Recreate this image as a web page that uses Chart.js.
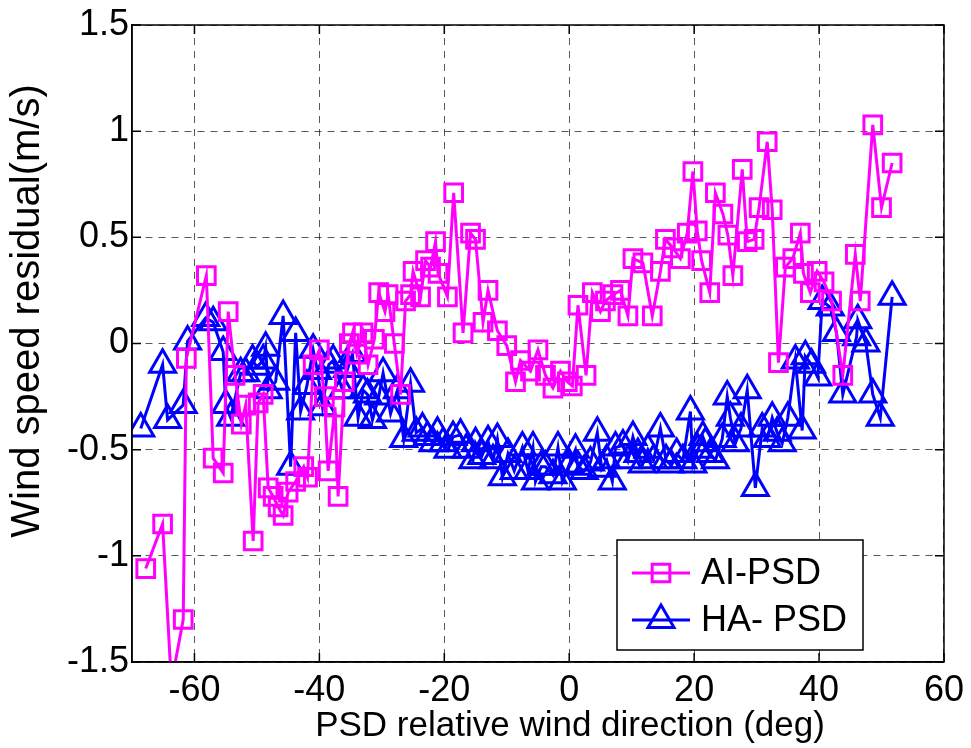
<!DOCTYPE html>
<html>
<head>
<meta charset="utf-8">
<script src="https://cdn.jsdelivr.net/npm/chart.js@4.4.1/dist/chart.umd.min.js"></script>
<style>
  html, body { margin: 0; padding: 0; background: #fff; }
  #wrap { width: 971px; height: 748px; position: relative; }
</style>
</head>
<body>
<div id="wrap"><canvas id="residualChart" width="971" height="748"></canvas></div>
<script>
// wind direction (deg) and residual (m/s) for each method
const aiDirection = [-67.8, -65.1, -63.7, -61.8, -61.3, -58.1, -57, -55.4, -54.6, -53.5, -52.5, -51.8, -50.6, -49.8, -49,
  -48.2, -47.4, -46.6, -45.8, -45, -43.8, -42.5, -41.9, -41, -40, -39.2, -38.6, -37.5, -37, -36, -35.2, -34.7, -34,
  -33, -32.2, -31.2, -30.5, -29.5, -29, -28, -27, -26.2, -25.4, -25, -23.8, -23, -22.2, -21.4, -21, -19.5, -18.5,
  -17, -15.8, -15, -13.8, -13, -11.5, -10, -8.6, -7.8, -6.2, -5, -3.8, -2.6, -1.4, -0.3, 0.5, 1.4, 2.7, 3.7, 5,
  5.8, 7, 8.2, 9.4, 10.2, 11.8, 13.3, 14.6, 15.4, 16.6, 17.8, 18.9, 19.8, 20.5, 21.2, 22.5, 23.4, 24.6, 25.4, 26.2,
  27.7, 28.5, 29.6, 30.4, 31.7, 32.5, 33.5, 34.6, 35.8, 37, 37.5, 38.6, 39.7, 40.8, 42, 43.8, 45.8, 46.6, 48.6, 50, 51.7];
const aiResidual = [-1.06, -0.85, -1.6, -1.30, -0.07, 0.32, -0.54, -0.61, 0.15, -0.15, -0.38, -0.29, -0.93, -0.28, -0.24,
  -0.68, -0.72, -0.77, -0.81, -0.70, -0.65, -0.58, -0.63, -0.10, -0.03, -0.25, -0.60, -0.30, -0.72, -0.18, 0.0, 0.05, -0.05,
  0.05, -0.10, 0.02, 0.24, 0.15, 0.23, 0.0, -0.24, 0.20, 0.23, 0.34, 0.22, 0.39, 0.36, 0.48, 0.33, 0.22, 0.71,
  0.05, 0.52, 0.49, 0.10, 0.25, 0.06, -0.01, -0.18, -0.08, -0.13, -0.03, -0.15, -0.21, -0.13, -0.18, -0.20, 0.18, -0.15, 0.24, 0.15,
  0.20, 0.23, 0.25, 0.13, 0.40, 0.38, 0.13, 0.34, 0.49, 0.45, 0.40, 0.52, 0.81, 0.53, 0.39, 0.24, 0.71, 0.61, 0.51, 0.32,
  0.82, 0.48, 0.49, 0.64, 0.95, 0.63, -0.09, 0.36, 0.40, 0.52, 0.33, 0.24, 0.34, 0.29, 0.20, -0.15, 0.42, 0.20, 1.03, 0.64, 0.85];

const haDirection = [-68.6, -65.1, -64.3, -61.8, -61.1, -58.2, -57, -55.4, -55, -54.2, -52.6, -51.8, -50.7, -50, -49,
  -48.6, -48.2, -47, -45.8, -44.6, -43.8, -43, -42, -41, -40.3, -39.5, -38.5, -37.8, -36.3, -35.5, -34.7, -33.8, -33,
  -32.3, -31.5, -30.5, -29.8, -28.6, -27.5, -26.5, -25.4, -24.5, -23.5, -22.7, -21.8, -21.1, -20.2, -19.4, -18.6, -17.4,
  -16.5, -15.4, -15, -14, -13, -12.2, -11.5, -10.7, -9.8, -8.8, -7.5, -6.6, -5.8, -5.4, -4.5, -3.8, -2.6, -1.8, -1.1,
  0, 1, 1.4, 2.4, 3.4, 4.5, 5.2, 6, 6.9, 7.4, 8.6, 9.4, 10.2, 11, 11.7, 12.6, 13.5, 14.6, 15.5, 16.2, 17.2, 18.2,
  19.4, 19.8, 20.6, 21.4, 21.8, 22.6, 23.4, 24.5, 25.3, 25.8, 26.6, 27.5, 28.5, 29.8, 30.9, 31.7, 32.5, 33.3, 34.1, 35,
  36.2, 37.3, 37.8, 38.8, 39.8, 40.5, 41.8, 42.8, 43.8, 46, 46.2, 47.5, 48.6, 49.8, 51.7];
const haResidual = [-0.40, -0.10, -0.36, -0.29, 0.01, 0.12, 0.10, -0.04, -0.29, -0.35, -0.14, -0.14, -0.08, -0.11, -0.08,
  -0.02, -0.22, -0.18, 0.13, -0.58, 0.05, -0.32, -0.20, -0.03, -0.13, -0.30, -0.10, -0.08, -0.22, -0.12, -0.05, -0.35, -0.22,
  -0.24, -0.36, -0.25, -0.14, -0.33, -0.22, -0.45, -0.19, -0.42, -0.40, -0.44, -0.47, -0.42, -0.47, -0.50, -0.44, -0.43,
  -0.50, -0.55, -0.47, -0.53, -0.46, -0.55, -0.45, -0.63, -0.52, -0.60, -0.49, -0.60, -0.49, -0.65, -0.58, -0.58, -0.62, -0.49, -0.65,
  -0.57, -0.50, -0.58, -0.60, -0.56, -0.42, -0.59, -0.55, -0.65, -0.49, -0.48, -0.55, -0.44, -0.52, -0.57, -0.50, -0.55, -0.40, -0.55, -0.57, -0.52, -0.55,
  -0.32, -0.57, -0.50, -0.44, -0.47, -0.52, -0.55, -0.45, -0.25, -0.35, -0.47, -0.40, -0.22, -0.68, -0.40, -0.45, -0.35, -0.42, -0.47, -0.35,
  -0.08, -0.41, -0.06, -0.10, -0.16, 0.20, 0.17, 0.05, -0.24, 0.03, 0.11, 0.0, -0.24, -0.35, 0.22];

const xTickValues = [-60, -40, -20, 0, 20, 40, 60];
const seriesNames = ['AI-PSD', 'HA- PSD'];
const xTitle = 'PSD relative wind direction (deg)';
const yTitle = 'Wind speed residual(m/s)';

const FONT = '"Liberation Sans", Arial, sans-serif';

function pairs(xs, ys) {
    return xs.map((x, i) => ({ x: x, y: ys[i] }));
}

// frame round the plot, with inward ticks like the original
const framePlugin = {
    id: 'frame',
    afterDraw(chart) {
        const { ctx, chartArea: a, scales } = chart;
        ctx.save();
        ctx.strokeStyle = '#000';
        ctx.lineWidth = 1.5;
        ctx.setLineDash([]);
        ctx.strokeRect(a.left, a.top, a.right - a.left, a.bottom - a.top);
        ctx.beginPath();
        scales.x.ticks.forEach(t => {
            const px = scales.x.getPixelForValue(t.value);
            ctx.moveTo(px, a.bottom); ctx.lineTo(px, a.bottom - 9);
            ctx.moveTo(px, a.top); ctx.lineTo(px, a.top + 9);
        });
        scales.y.ticks.forEach(t => {
            const py = scales.y.getPixelForValue(t.value);
            ctx.moveTo(a.left, py); ctx.lineTo(a.left + 9, py);
            ctx.moveTo(a.right, py); ctx.lineTo(a.right - 9, py);
        });
        ctx.stroke();
        ctx.restore();
    }
};

// axis titles, placed where the original has them
const axisTitlePlugin = {
    id: 'axisTitles',
    afterDraw(chart) {
        const { ctx } = chart;
        ctx.save();
        ctx.fillStyle = '#000';
        ctx.textAlign = 'center';
        ctx.textBaseline = 'middle';
        ctx.font = '35px ' + FONT;
        ctx.fillText(xTitle, 570, 726);
        ctx.translate(28, 311);
        ctx.rotate(-Math.PI / 2);
        ctx.font = '40px ' + FONT;
        ctx.fillText(yTitle, 0, 0);
        ctx.restore();
    }
};

// legend box in the lower right corner of the plot
const boxLegendPlugin = {
    id: 'boxLegend',
    afterDraw(chart) {
        const { ctx } = chart;
        const bx = 617, by = 540, bw = 246, bh = 110;
        ctx.save();
        ctx.fillStyle = '#fff';
        ctx.fillRect(bx, by, bw, bh);
        ctx.strokeStyle = '#000';
        ctx.lineWidth = 1.5;
        ctx.strokeRect(bx, by, bw, bh);
        chart.data.datasets.forEach((ds, i) => {
            const cy = by + 33 + i * 47;
            ctx.strokeStyle = ds.borderColor;
            ctx.lineWidth = 3;
            ctx.beginPath();
            ctx.moveTo(632, cy); ctx.lineTo(690, cy);
            ctx.stroke();
            ctx.fillStyle = 'rgba(0,0,0,0)';
            Chart.helpers.drawPoint(ctx, {
                pointStyle: ds.pointStyle, radius: ds.pointRadius, borderWidth: 3
            }, 661, cy);
            ctx.fillStyle = '#000';
            ctx.font = '36px ' + FONT;
            ctx.textBaseline = 'middle';
            ctx.fillText(ds.label, 701, cy + 1);
        });
        ctx.restore();
    }
};

const ctx = document.getElementById('residualChart');
new Chart(ctx, {
    type: 'scatter',
    data: {
        datasets: [{
            label: seriesNames[0],
            data: pairs(aiDirection, aiResidual),
            showLine: true,
            borderColor: '#ff00ff',
            backgroundColor: 'rgba(0,0,0,0)',
            borderWidth: 3,
            pointStyle: 'rect',
            pointRadius: 12.5,
            pointBorderWidth: 3,
            pointBorderColor: '#ff00ff',
            pointBackgroundColor: 'rgba(0,0,0,0)'
        }, {
            label: seriesNames[1],
            data: pairs(haDirection, haResidual),
            showLine: true,
            borderColor: '#0000ff',
            backgroundColor: 'rgba(0,0,0,0)',
            borderWidth: 3,
            pointStyle: 'triangle',
            pointRadius: 15,
            pointBorderWidth: 3,
            pointBorderColor: '#0000ff',
            pointBackgroundColor: 'rgba(0,0,0,0)'
        }]
    },
    options: {
        responsive: false,
        animation: false,
        layout: { padding: { left: 0, right: 27, top: 25, bottom: 0 } },
        plugins: {
            legend: { display: false },
            tooltip: { enabled: false }
        },
        scales: {
            x: {
                type: 'linear',
                min: -70,
                max: 60,
                afterBuildTicks: scale => {
                    scale.ticks = xTickValues.map(v => ({ value: v }));
                },
                afterFit: scale => { scale.height = 86; },
                grid: {
                    color: 'rgba(0,0,0,0.65)',
                    lineWidth: 1,
                    drawTicks: false
                },
                border: { display: true, color: '#000', width: 1.5, dash: [7, 6] },
                ticks: {
                    color: '#000',
                    padding: 7,
                    maxRotation: 0,
                    font: { family: FONT, size: 36 }
                }
            },
            y: {
                min: -1.5,
                max: 1.5,
                ticks: {
                    stepSize: 0.5,
                    color: '#000',
                    padding: 3,
                    font: { family: FONT, size: 36 },
                    callback: value => String(value)
                },
                afterFit: scale => { scale.width = 132; },
                grid: {
                    color: 'rgba(0,0,0,0.65)',
                    lineWidth: 1,
                    drawTicks: false
                },
                border: { display: true, color: '#000', width: 1.5, dash: [7, 6] }
            }
        }
    },
    plugins: [framePlugin, axisTitlePlugin, boxLegendPlugin]
});
</script>
</body>
</html>
